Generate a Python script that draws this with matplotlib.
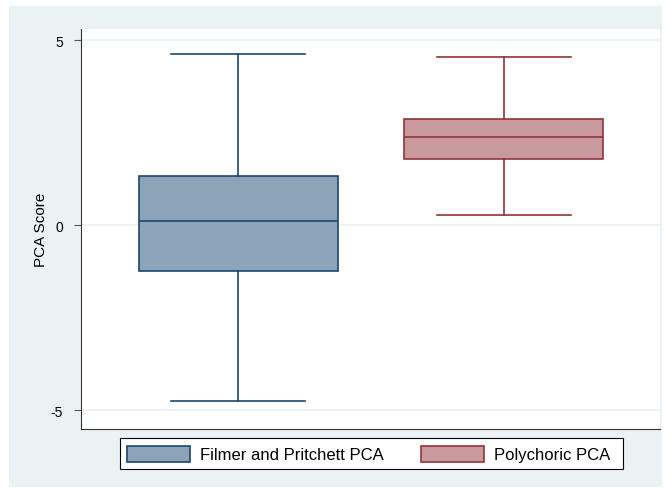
import matplotlib
matplotlib.use("Agg")
import matplotlib.pyplot as plt
from matplotlib.patches import Rectangle, Patch

plt.rcParams['font.family'] = ['Liberation Sans', 'DejaVu Sans']

groups = ["Filmer and Pritchett PCA", "Polychoric PCA"]
whislo = [-4.76, 0.27]
q1 = [-1.24, 1.78]
med = [0.11, 2.38]
q3 = [1.32, 2.86]
whishi = [4.62, 4.54]
yticks = [-5, 0, 5]

fills = ["#8ca3b8", "#c89a9d"]
edges = ["#1a476f", "#90353b"]
bg = "#eaf2f3"

W, H = 665, 489
fig = plt.figure(figsize=(W / 100, H / 100), dpi=100)
fig.patches.append(Rectangle((9 / W, 1 / H), 653 / W, 481 / H,
                             transform=fig.transFigure, facecolor=bg,
                             edgecolor="none", zorder=-1))

ax = fig.add_axes([81 / W, 59 / H, 579 / W, 400 / H])
ax.set_facecolor("white")

for i in range(len(groups)):
    stats = [dict(whislo=whislo[i], q1=q1[i], med=med[i], q3=q3[i],
                  whishi=whishi[i], fliers=[])]
    lp = dict(color=edges[i], linewidth=1.2)
    ax.bxp(stats, positions=[i + 1], widths=0.75, patch_artist=True,
           showfliers=False,
           boxprops=dict(facecolor=fills[i], edgecolor=edges[i], linewidth=1.2),
           medianprops=lp, whiskerprops=lp, capprops=lp,
           capwidths=0.506, manage_ticks=False)

ax.set_xlim(0.4075, 2.589)
ax.set_ylim(-5.51, 5.30)
ax.set_xticks([])
ax.set_yticks(yticks)
ax.set_yticklabels([str(t) for t in yticks], fontsize=10)
ax.tick_params(axis="y", length=5, width=0.8, color="#555555", pad=8)
ax.grid(axis="y", color=bg, linewidth=1.2)
ax.set_axisbelow(True)
for s in ["top", "right"]:
    ax.spines[s].set_visible(False)
ax.spines["left"].set_color("#333333")
ax.spines["bottom"].set_color("#333333")
ax.spines["left"].set_linewidth(0.8)
ax.spines["bottom"].set_linewidth(0.8)
ax.set_ylabel("PCA Score", fontsize=11, labelpad=2)

# legend box drawn separately so its width can be set freely
fig.patches.append(Rectangle((120 / W, (H - 470) / H), 503 / W, 31 / H,
                             transform=fig.transFigure, facecolor="white",
                             edgecolor="black", linewidth=0.8, zorder=1))
handles = [Patch(facecolor=fills[i], edgecolor=edges[i], linewidth=1.2)
           for i in range(len(groups))]
leg = fig.legend(handles, groups, loc="center left", ncol=2,
                 bbox_to_anchor=(127 / W, (H - 455) / H),
                 fontsize=12, frameon=False, borderpad=0, borderaxespad=0,
                 handlelength=3.8, handleheight=1.1,
                 columnspacing=2.2, handletextpad=0.6)
leg.set_zorder(2)

fig.savefig("out.png", dpi=100, facecolor="white")
